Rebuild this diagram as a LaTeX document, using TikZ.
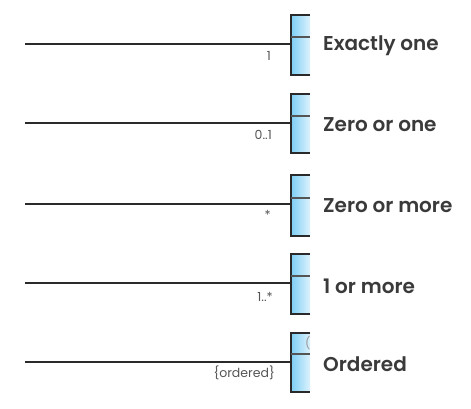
\documentclass[tikz,border=0pt]{standalone}
\usepackage{fontspec}
\setmainfont{Poppins}[BoldFont={Poppins SemiBold}]
\begin{document}
\begin{tikzpicture}[x=1pt,y=-1pt,
  conn/.style={draw=lineC,line width=1.1pt},
  mult/.style={font=\fontsize{12.5}{14}\selectfont,text=multC,inner sep=0pt,anchor=east},
  title/.style={font=\fontsize{20}{22}\selectfont\bfseries,text=titleC,anchor=west,inner sep=0pt}]
\definecolor{clsL}{HTML}{7DCFF5}
\definecolor{clsR}{HTML}{DDF2FC}
\definecolor{lineC}{HTML}{2A2A2A}
\definecolor{multC}{HTML}{555555}
\definecolor{titleC}{HTML}{3A3A3A}
\useasboundingbox (0,0) rectangle (471,408);
\foreach \n/\top/\bot/\div/\ly/\lab/\lx/\lyy/\txt/\ty in {
  a/15/75/37/44/1/271/56/Exactly one/46,
  b/94/153/116/123/0..1/272/135/Zero or one/125,
  c/175/236/198/204/*/271/215/Zero or more/206,
  d/254/314/276/283/1..*/273/297/1 or more/286,
  e/333/392/354/362/\{ordered\}/275/373/Ordered/364}{
  \fill[left color=clsL,right color=clsR] (291,\top) rectangle (310,\bot);
  \draw[lineC,line width=1.4pt] (310,\top) -- (291,\top) -- (291,\bot) -- (310,\bot);
  \draw[lineC!80,line width=1.2pt] (291,\div) -- (310,\div);
  \coordinate (s\n) at (25,\ly);
  \coordinate (e\n) at (291,\ly);
  \draw[conn] (s\n) -- (e\n);
  \node[mult] (m\n) at (\lx,\lyy) {\lab};
  \node[title] (t\n) at (323,\ty) {\txt};
}
\begin{scope}
\clip (291,333) rectangle (310,354);
\node[font=\fontsize{12}{14}\selectfont,text=multC!60,anchor=west,inner sep=0pt] (clip) at (305,343) {(};
\end{scope}
\end{tikzpicture}
\end{document}
